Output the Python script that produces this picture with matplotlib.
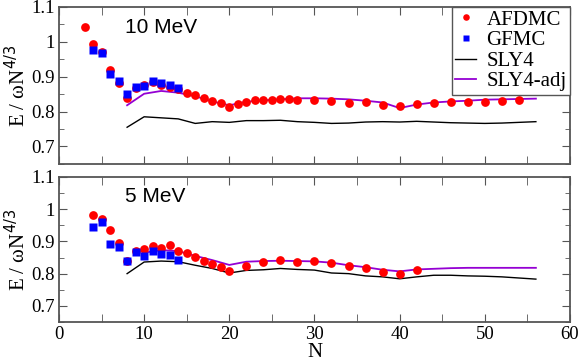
import numpy as np
import matplotlib
matplotlib.use('Agg')
import matplotlib.pyplot as plt
from matplotlib.ticker import MultipleLocator

# ---- data: 10 MeV panel ----
af10_n = [3, 4, 5, 6, 7, 8, 9, 10, 11, 12, 13, 14, 15, 16, 17, 18, 19, 20, 21, 22, 23, 24, 25, 26, 27, 28,
          30, 32, 34, 36, 38, 40, 42, 44, 46, 48, 50, 52, 54]
af10_e = [1.041, 0.993, 0.970, 0.919, 0.881, 0.840, 0.867, 0.875, 0.885, 0.875, 0.869, 0.864, 0.854, 0.846,
          0.838, 0.831, 0.824, 0.813, 0.822, 0.828, 0.832, 0.834, 0.834, 0.837, 0.835, 0.833,
          0.832, 0.829, 0.824, 0.826, 0.818, 0.815, 0.821, 0.824, 0.827, 0.827, 0.826, 0.830, 0.832]
gf10_n = [4, 5, 6, 7, 8, 9, 10, 11, 12, 13, 14]
gf10_e = [0.977, 0.969, 0.908, 0.888, 0.849, 0.871, 0.872, 0.887, 0.881, 0.875, 0.867]
sly_n = [8, 10, 12, 14, 16, 18, 20, 22, 24, 26, 28, 30, 32, 34, 36, 38, 40, 42, 44, 46, 48, 50, 52, 56]
sly10_e = [0.755, 0.785, 0.782, 0.779, 0.766, 0.771, 0.769, 0.774, 0.774, 0.775, 0.771, 0.769, 0.766,
           0.767, 0.770, 0.771, 0.770, 0.772, 0.770, 0.768, 0.767, 0.766, 0.767, 0.771]
adj10_e = [0.818, 0.851, 0.859, 0.854, 0.844, 0.829, 0.818, 0.828, 0.832, 0.835, 0.838, 0.838, 0.837,
           0.835, 0.831, 0.826, 0.810, 0.820, 0.826, 0.829, 0.831, 0.834, 0.835, 0.837]

# ---- data: 5 MeV panel ----
af5_n = [4, 5, 6, 7, 8, 9, 10, 11, 12, 13, 14, 15, 16, 17, 18, 19, 20, 22, 24, 26, 28,
         30, 32, 34, 36, 38, 40, 42]
af5_e = [0.982, 0.969, 0.935, 0.894, 0.840, 0.869, 0.876, 0.885, 0.878, 0.888, 0.871, 0.863, 0.851,
         0.839, 0.830, 0.820, 0.807, 0.825, 0.837, 0.842, 0.837, 0.839, 0.832, 0.824, 0.818, 0.805,
         0.798, 0.811]
gf5_n = [4, 5, 6, 7, 8, 9, 10, 11, 12, 13, 14]
gf5_e = [0.945, 0.961, 0.892, 0.884, 0.838, 0.866, 0.855, 0.870, 0.861, 0.857, 0.842]
sly5_e = [0.800, 0.836, 0.839, 0.837, 0.826, 0.816, 0.802, 0.810, 0.812, 0.816, 0.813, 0.811, 0.802,
          0.800, 0.793, 0.790, 0.784, 0.790, 0.795, 0.795, 0.793, 0.792, 0.790, 0.783]
adj5_n = [10, 12, 14, 16, 18, 20, 22, 24, 26, 28, 30, 32, 34, 36, 38, 40, 42, 44, 46, 48, 50, 56]
adj5_e = [0.865, 0.873, 0.870, 0.855, 0.842, 0.827, 0.837, 0.839, 0.840, 0.839, 0.838, 0.834, 0.826,
          0.820, 0.812, 0.807, 0.813, 0.815, 0.817, 0.818, 0.818, 0.818]

serif = ['Liberation Serif', 'DejaVu Serif']
plt.rcParams['font.family'] = serif

fig = plt.figure(figsize=(5.81, 3.61), dpi=100)
ax1 = fig.add_axes([0.1015, 0.546, 0.8795, 0.435])
ax2 = fig.add_axes([0.1015, 0.108, 0.8795, 0.402])

panels = [(ax1, af10_n, af10_e, gf10_n, gf10_e, sly_n, sly10_e, sly_n, adj10_e, '10 MeV'),
          (ax2, af5_n, af5_e, gf5_n, gf5_e, sly_n, sly5_e, adj5_n, adj5_e, '5 MeV')]

for ax, an, ae, gn, ge, sn, se, pn, pe, lab in panels:
    ax.plot(an, ae, 'o', color='#ff0000', ms=6.3, mec='none', label='AFDMC', zorder=3)
    ax.plot(gn, ge, 's', color='#0000ff', ms=5.6, mec='none', label='GFMC', zorder=4)
    ax.plot(sn, se, '-', color='black', lw=1.0, label='SLY4', zorder=2)
    ax.plot(pn, pe, '-', color='#9400d3', lw=1.3, label='SLY4-adj', zorder=2)
    ax.set_xlim(0, 60)
    ax.set_ylim(0.65, 1.1)
    ax.xaxis.set_major_locator(MultipleLocator(10))
    ax.yaxis.set_major_locator(MultipleLocator(0.1))
    ax.yaxis.set_minor_locator(MultipleLocator(0.05))
    ax.tick_params(which='both', direction='in', top=True, right=True, labelsize=13.5,
                   color='#555555', pad=3)
    ax.tick_params(which='major', length=6)
    ax.tick_params(which='minor', length=3.5)
    ax.set_yticks([0.7, 0.8, 0.9, 1.0, 1.1])
    ax.set_yticklabels(['0.7', '0.8', '0.9', '1', '1.1'])
    ax.set_xticks([5, 15, 25, 35, 45, 55], minor=True)
    ax.tick_params(axis='x', which='minor', length=6)
    for s in ax.spines.values():
        s.set_color('#555555')
        s.set_linewidth(1.3)
    ax.set_ylabel('E / ωN$^{4/3}$', fontsize=15, labelpad=1)
    ax.text(0.13, 0.93, lab, transform=ax.transAxes, fontsize=15,
            family=['Liberation Sans', 'DejaVu Sans'], va='top')

ax1.tick_params(labelbottom=False)
ax2.set_xlabel('N', fontsize=15, labelpad=0)

leg = ax1.legend(loc='upper right', fontsize=15, handlelength=1.0, handletextpad=0.5,
                 borderpad=0.15, labelspacing=0.05, borderaxespad=0.0, fancybox=False,
                 framealpha=1, markerscale=0.75)
leg.get_frame().set_edgecolor('#555555')
leg.get_frame().set_linewidth(1.0)

fig.savefig('out.png', dpi=100)
